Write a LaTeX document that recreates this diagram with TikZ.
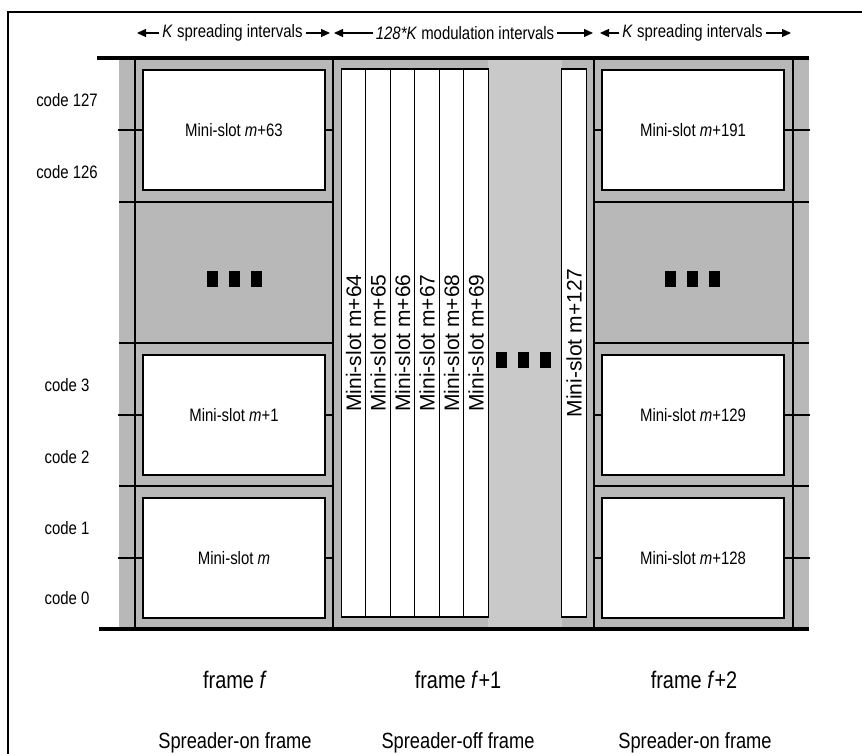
\documentclass[tikz,border=0pt]{standalone}
\usepackage{fontspec}
\setmainfont{Liberation Sans}
\newfontfamily\narrowfont[FakeStretch=0.83]{Liberation Sans}
\usetikzlibrary{arrows.meta}

\begin{document}
\begin{tikzpicture}[x=1pt,y=-1pt,
    frmGrid/.style={line width=1.8pt},
    frmEdge/.style={line width=4pt},
    frmSpan/.style={-{Triangle[length=9pt,width=8pt]},line width=1.3pt},
    frmSlot/.style={draw,line width=1.8pt,fill=white,minimum width=182pt,minimum height=120pt,inner sep=0pt,font=\narrowfont\fontsize{18}{21}\selectfont},
    frmCol/.style={draw,line width=1.4pt,fill=white,rotate=90,minimum width=548pt,minimum height=24.5pt,inner sep=0pt,font=\fontsize{21}{24}\selectfont},
    frmDot/.style={fill=black,minimum width=11pt,minimum height=16pt,inner sep=0pt},
    frmCode/.style={font=\narrowfont\fontsize{18}{21}\selectfont},
    frmName/.style={font=\narrowfont\fontsize{24}{28}\selectfont},
    frmKind/.style={font=\narrowfont\fontsize{22}{26}\selectfont},
    frmHead/.style={font=\narrowfont\fontsize{18}{21}\selectfont,inner sep=3pt},
]
\useasboundingbox (0,0) rectangle (862,754);
\draw[line width=2pt] (8,754) -- (8,12) -- (862,12);
% Shaded frame area
\fill[black!28] (119,58) rectangle (809,629);
\fill[black!21] (488,58) rectangle (562,629);
\draw[frmGrid] (135,58) -- (135,629);
\draw[frmGrid] (333,58) -- (333,629);
\draw[frmGrid] (594,58) -- (594,629);
\draw[frmGrid] (793,58) -- (793,629);
\draw[frmGrid] (119,202) -- (333,202) (594,202) -- (809,202);
\draw[frmGrid] (119,343) -- (333,343) (594,343) -- (809,343);
\draw[frmGrid] (119,486) -- (333,486) (594,486) -- (809,486);
\draw[frmEdge] (97,58) -- (809,58);
\draw[frmEdge] (99,629) -- (809,629);
% Spreader-on frames
\node[frmSlot] (s63) at (234,130) {Mini-slot \textit{m}+63};
\node[frmSlot] (s1) at (234,415) {Mini-slot \textit{m}+1};
\node[frmSlot] (s0) at (234,558) {Mini-slot \textit{m}};
\node[frmSlot] (s191) at (693,130) {Mini-slot \textit{m}+191};
\node[frmSlot] (s129) at (693,415) {Mini-slot \textit{m}+129};
\node[frmSlot] (s128) at (693,558) {Mini-slot \textit{m}+128};
\foreach \s in {s63,s1,s0} {
  \draw[frmGrid] (\s.west) -- ++(-24,0);
  \draw[frmGrid] (\s.east) -- ++(8,0);
}
\foreach \s in {s191,s129,s128} {
  \draw[frmGrid] (\s.west) -- ++(-8,0);
  \draw[frmGrid] (\s.east) -- ++(25,0);
}
\node[frmDot] (dl1) at (212.5,279) {};
\node[frmDot] (dl2) at (234.5,279) {};
\node[frmDot] (dl3) at (256,279) {};
\node[frmDot] (dr1) at (670,279) {};
\node[frmDot] (dr2) at (692,279) {};
\node[frmDot] (dr3) at (714,279) {};
% Spreader-off frame
\node[frmCol] (c64) at (353.5,343) {Mini-slot m+64};
\node[frmCol] (c65) at (378,343) {Mini-slot m+65};
\node[frmCol] (c66) at (402.5,343) {Mini-slot m+66};
\node[frmCol] (c67) at (427,343) {Mini-slot m+67};
\node[frmCol] (c68) at (451.5,343) {Mini-slot m+68};
\node[frmCol] (c69) at (476,343) {Mini-slot m+69};
\node[frmCol] (c127) at (574,343) {Mini-slot m+127};
\node[frmDot] (dm1) at (501.5,360) {};
\node[frmDot] (dm2) at (523.5,360) {};
\node[frmDot] (dm3) at (545.5,360) {};
% Codes
\node[frmCode] (k127) at (67,100) {code 127};
\node[frmCode] (k126) at (67,172) {code 126};
\node[frmCode] (k3) at (67,385) {code 3};
\node[frmCode] (k2) at (67,457) {code 2};
\node[frmCode] (k1) at (67,528) {code 1};
\node[frmCode] (k0) at (67,598) {code 0};
% Interval spans
\node[frmHead] (hl) at (232.5,33) {\textit{K} spreading intervals};
\node[frmHead] (hm) at (465,33) {\textit{128*K} modulation intervals};
\node[frmHead] (hr) at (692.5,33) {\textit{K} spreading intervals};
\coordinate (hl0) at (137,33);
\coordinate (hl1) at (330,33);
\coordinate (hm0) at (334,33);
\coordinate (hm1) at (593,33);
\coordinate (hr0) at (600,33);
\coordinate (hr1) at (791,33);
\draw[frmSpan] (hl) -- (hl0);
\draw[frmSpan] (hl) -- (hl1);
\draw[frmSpan] (hm) -- (hm0);
\draw[frmSpan] (hm) -- (hm1);
\draw[frmSpan] (hr) -- (hr0);
\draw[frmSpan] (hr) -- (hr1);
% Frame names
\node[frmName] (f0) at (235,680) {frame \textit{f}};
\node[frmName] (f1) at (458,680) {frame \textit{f}+1};
\node[frmName] (f2) at (694,680) {frame \textit{f}+2};
\node[frmKind] (t0) at (235,743) {Spreader-on frame};
\node[frmKind] (t1) at (458,743) {Spreader-off frame};
\node[frmKind] (t2) at (695,743) {Spreader-on frame};
\end{tikzpicture}
\end{document}
